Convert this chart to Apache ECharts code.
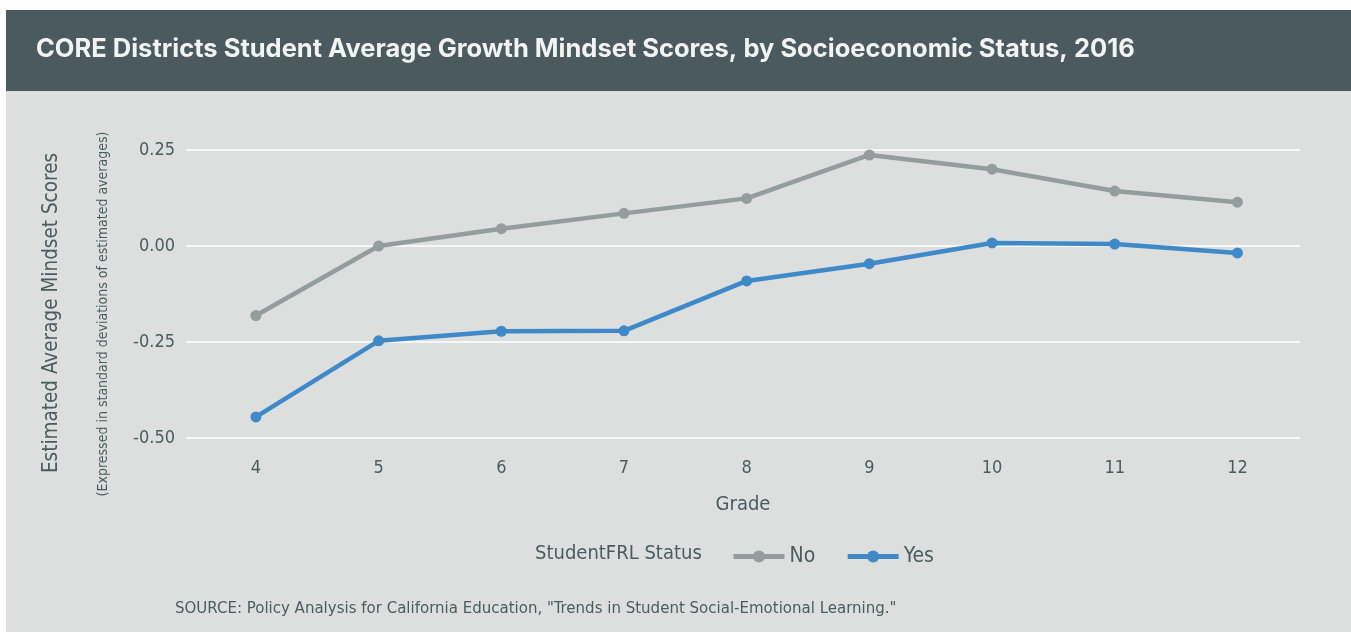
<!DOCTYPE html>
<html>
<head>
<meta charset="utf-8">
<script src="https://cdn.jsdelivr.net/npm/echarts@6/dist/echarts.min.js"></script>
<style>
html,body{margin:0;padding:0;background:#ffffff;}
#chart{width:1351px;height:632px;}
</style>
</head>
<body>
<div id="chart"></div>
<script>
const grades = [4, 5, 6, 7, 8, 9, 10, 11, 12];
const seriesNames = ['No', 'Yes'];
const noValues = [-0.181, 0.000, 0.045, 0.085, 0.124, 0.237, 0.200, 0.143, 0.114];
const yesValues = [-0.445, -0.247, -0.222, -0.221, -0.091, -0.046, 0.008, 0.005, -0.018];
const yTicks = [-0.5, -0.25, 0, 0.25];

const FONT = '"Liberation Sans Narrow", "DejaVu Sans Condensed", sans-serif';
const TXT = '#4b5b5f';
const GRAY = '#959c9d';
const BLUE = '#3f89c9';

const chart = echarts.init(document.getElementById('chart'), null, {renderer: 'canvas'});
const pair = (vals) => grades.map((g, i) => [g, vals[i]]);

chart.setOption({
  backgroundColor: '#ffffff',
  animation: false,
  graphic: [
    {type: 'rect', z: -10, left: 6, top: 10, shape: {width: 1345, height: 81}, style: {fill: '#4a5a5f'}},
    {type: 'rect', z: -10, left: 6, top: 91, shape: {width: 1345, height: 541}, style: {fill: '#dcdfde'}},
    {type: 'text', left: 535, top: 544, style: {text: 'StudentFRL Status', font: '20px ' + FONT, fill: TXT}},
    {type: 'text', left: 175, top: 600, style: {text: 'SOURCE: Policy Analysis for California Education, "Trends in Student Social-Emotional Learning."', font: '16.7px ' + FONT, fill: TXT}},
    {type: 'text', x: 52, y: 313, rotation: Math.PI / 2,
      style: {text: 'Estimated Average Mindset Scores', font: '20.5px ' + FONT, fill: TXT, align: 'center', verticalAlign: 'middle'}},
    {type: 'text', x: 103, y: 314, rotation: Math.PI / 2,
      style: {text: '(Expressed in standard deviations of estimated averages)', font: '14px ' + FONT, fill: TXT, align: 'center', verticalAlign: 'middle'}}
  ],
  title: {
    text: 'CORE Districts Student Average Growth Mindset Scores, by Socioeconomic Status, 2016',
    left: 31, top: 31,
    textStyle: {color: '#f2f3f3', fontFamily: 'Inter, Roboto, "Liberation Sans", sans-serif', fontWeight: 'bold', fontSize: 25.5}
  },
  legend: {
    data: seriesNames,
    left: 731, top: 546, padding: 0,
    itemWidth: 51, itemHeight: 15, itemGap: 30,
    lineStyle: {width: 5},
    textStyle: {color: TXT, fontFamily: FONT, fontSize: 21, padding: [0, 0, 0, 0]}
  },
  grid: {left: 186, right: 51, top: 150, height: 288, containLabel: false},
  xAxis: {
    type: 'value',
    min: 3.43, max: 12.51,
    name: 'Grade', nameLocation: 'middle', nameGap: 57,
    nameTextStyle: {color: TXT, fontFamily: FONT, fontSize: 20},
    axisLine: {show: false}, axisTick: {show: false}, splitLine: {show: false},
    axisLabel: {customValues: grades, color: TXT, fontFamily: FONT, fontSize: 18, margin: 21}
  },
  yAxis: {
    type: 'value',
    min: -0.5, max: 0.25, interval: 0.25,
    axisLine: {show: false}, axisTick: {show: false},
    splitLine: {lineStyle: {color: '#ffffff', width: 1.5}},
    axisLabel: {color: TXT, fontFamily: FONT, fontSize: 18, margin: 11,
      formatter: v => v.toFixed(2)}
  },
  series: [
    {name: 'No', type: 'line', data: pair(noValues), color: GRAY,
      symbol: 'circle', symbolSize: 11, lineStyle: {width: 4.5, color: GRAY}, itemStyle: {color: GRAY}},
    {name: 'Yes', type: 'line', data: pair(yesValues), color: BLUE,
      symbol: 'circle', symbolSize: 11, lineStyle: {width: 4.5, color: BLUE}, itemStyle: {color: BLUE}}
  ]
});
</script>
</body>
</html>
